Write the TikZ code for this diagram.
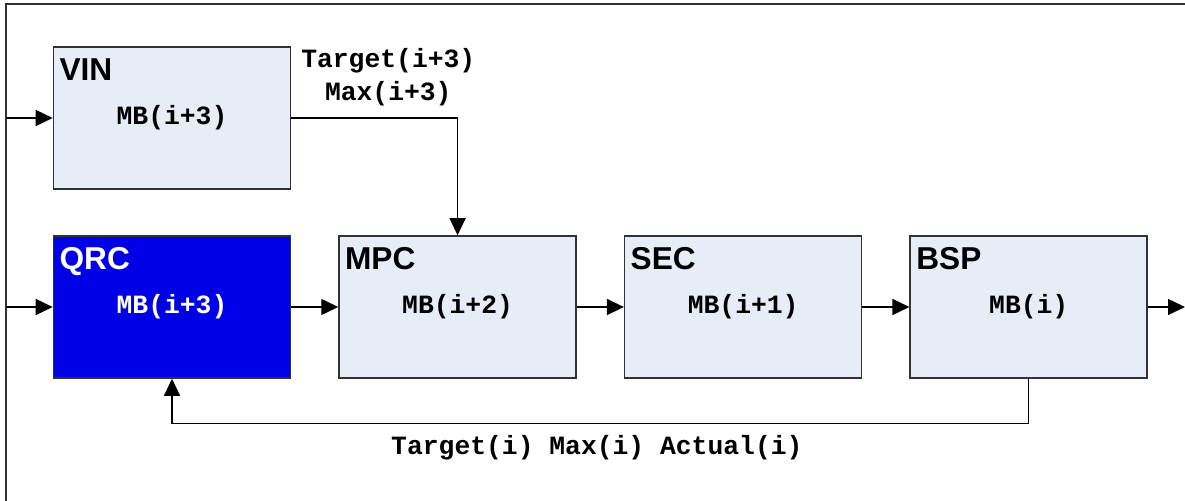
\documentclass[tikz,border=0pt]{standalone}
\usepackage{fontspec}
\setmainfont{Liberation Sans}
\setmonofont{Liberation Mono}
\usepackage{tikz}
\usetikzlibrary{arrows.meta,positioning,calc}
\definecolor{boxfill}{RGB}{231,237,247}
\definecolor{qrcblue}{RGB}{0,0,230}
\definecolor{edgegray}{RGB}{50,50,50}

\begin{document}
\begin{tikzpicture}[node distance=0.94cm,
    >={Triangle[length=0.34cm,width=0.32cm]},
    block/.style={draw=edgegray,line width=0.9pt,fill=boxfill,minimum width=4.74cm,minimum height=2.84cm,inner sep=0pt,font=\ttfamily\bfseries\fontsize{15}{18}\selectfont},
    title/.style={anchor=north west,inner sep=0pt,font=\bfseries\fontsize{18}{20}\selectfont},
    sig/.style={inner sep=0pt,align=center,font=\ttfamily\bfseries\fontsize{15}{18.8}\selectfont},
    wire/.style={line width=0.8pt}]
    \useasboundingbox (0,0) rectangle (23.7,-10.02);
    \draw[edgegray,line width=1.3pt] (23.7,-0.08) -- (0.12,-0.08) -- (0.12,-10.02);
    \coordinate (fl) at (0.12,0);
    \coordinate (fr) at (23.7,0);

    \node[block] (vin) at (3.44,-2.36) {MB(i+3)};
    \node[block,fill=qrcblue,text=white] (qrc) at (3.44,-6.14) {MB(i+3)};
    \node[block] (mpc) [right = of qrc] {MB(i+2)};
    \node[block] (sec) [right = of mpc] {MB(i+1)};
    \node[block] (bsp) [right = of sec] {MB(i)};

    \node[title] (vint) at ($(vin.north west)+(0.13,-0.24)$) {VIN};
    \node[title,text=white] (qrct) at ($(qrc.north west)+(0.13,-0.24)$) {QRC};
    \node[title] (mpct) at ($(mpc.north west)+(0.13,-0.24)$) {MPC};
    \node[title] (sect) at ($(sec.north west)+(0.13,-0.24)$) {SEC};
    \node[title] (bspt) at ($(bsp.north west)+(0.13,-0.24)$) {BSP};

    \path[->,wire]
    (vin.west -| fl) edge (vin.west)
    (qrc.west -| fl) edge (qrc.west)
    (qrc) edge (mpc)
    (mpc) edge (sec)
    (sec) edge (bsp)
    (bsp) edge (bsp.east -| fr);

    % limits from VIN
    \draw[->,wire] (vin.east) -| (mpc.north);
    \node[sig] (lim) [anchor=north] at ($(vin.north east)+(1.94,-0.03)$) {Target(i+3)\\Max(i+3)};

    % feedback from BSP
    \coordinate (fb) at ($(bsp.south)+(0,-0.9)$);
    \draw[->,wire] (bsp.south) -- (fb) -| (qrc.south);
    \coordinate (fbm) at ($(fb)!0.5!(fb -| qrc.south)+(-0.07,0)$);
    \node[sig] (act) [below = 0.22cm of fbm] {Target(i) Max(i) Actual(i)};
\end{tikzpicture}
\end{document}
